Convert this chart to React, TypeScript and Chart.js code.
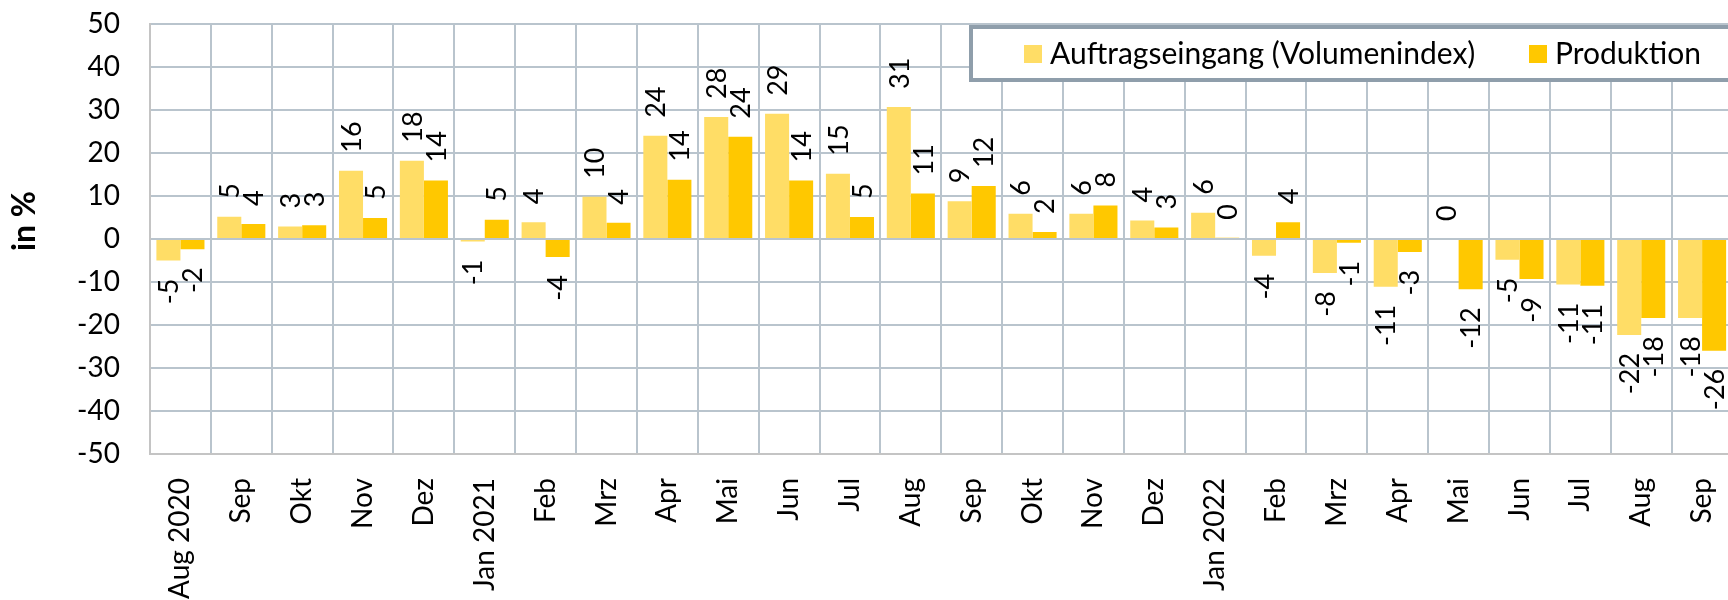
import React, { useEffect, useRef } from "react";
import { Chart, registerables } from "chart.js";

Chart.register(...registerables);

const categories = [
  "Aug 2020", "Sep", "Okt", "Nov", "Dez", "Jan 2021", "Feb", "Mrz", "Apr", "Mai", "Jun", "Jul", "Aug",
  "Sep", "Okt", "Nov", "Dez", "Jan 2022", "Feb", "Mrz", "Apr", "Mai", "Jun", "Jul", "Aug", "Sep",
];

const auftragseingang = [
  -5.0, 5.2, 2.9, 15.9, 18.2, -0.6, 3.9, 9.8, 24.0, 28.4, 29.1, 15.2, 30.7,
  8.8, 5.9, 5.9, 4.3, 6.1, -3.9, -7.9, -11.1, 0, -4.8, -10.6, -22.3, -18.4,
];

const produktion = [
  -2.4, 3.5, 3.2, 4.9, 13.6, 4.5, -4.2, 3.8, 13.8, 23.8, 13.6, 5.1, 10.6,
  12.3, 1.6, 7.8, 2.7, 0.3, 3.9, -0.9, -3.0, -11.7, -9.3, -10.9, -18.4, -26.0,
];

const seriesNames = ["Auftragseingang (Volumenindex)", "Produktion"];
const seriesColors = ["#FFDD66", "#FFC800"];
const yTicks = { min: -50, max: 50, step: 10 };
const yAxisTitle = "in %";

const FONT = "Lato, 'Open Sans', sans-serif";

const labelPlugin = {
  id: "customLabels",
  afterDatasetsDraw(chart: any) {
    const ctx = chart.ctx;
    ctx.save();
    ctx.fillStyle = "#000";
    ctx.font = `27px ${FONT}`;
    ctx.textBaseline = "middle";
    chart.data.datasets.forEach((ds: any, di: number) => {
      const meta = chart.getDatasetMeta(di);
      meta.data.forEach((el: any, i: number) => {
        const v = ds.data[i];
        let r = Math.round(v);
        if (Object.is(r, -0)) r = 0;
        const txt = String(r);
        ctx.save();
        if (v >= 0) {
          ctx.translate(el.x, el.y - 18);
          ctx.rotate(-Math.PI / 2);
          ctx.textAlign = "left";
        } else {
          ctx.translate(el.x, el.y + 18);
          ctx.rotate(-Math.PI / 2);
          ctx.textAlign = "right";
        }
        ctx.fillText(txt, 0, 1);
        ctx.restore();
      });
    });
    ctx.restore();
  },
  afterDraw(chart: any) {
    const ctx = chart.ctx;
    ctx.save();
    // legend box
    ctx.fillStyle = "#fff";
    ctx.fillRect(971, 27, 800, 53);
    ctx.strokeStyle = "#8f9eab";
    ctx.lineWidth = 4;
    ctx.strokeRect(971, 27, 800, 53);
    ctx.font = `30px ${FONT}`;
    ctx.textBaseline = "middle";
    ctx.textAlign = "left";
    const items = [
      { sx: 1024, tx: 1050 },
      { sx: 1529, tx: 1555 },
    ];
    items.forEach((it, i) => {
      ctx.fillStyle = chart.data.datasets[i].backgroundColor;
      ctx.fillRect(it.sx, 45, 18, 18);
      ctx.fillStyle = "#000";
      ctx.fillText(chart.data.datasets[i].label, it.tx, 54);
    });
    // y axis title
    ctx.font = `bold 32px ${FONT}`;
    ctx.translate(25, 221);
    ctx.rotate(-Math.PI / 2);
    ctx.textAlign = "center";
    ctx.fillText(yAxisTitle, 0, 0);
    ctx.restore();
  },
};

export default function App() {
  const ref = useRef<HTMLCanvasElement>(null);
  useEffect(() => {
    if (!ref.current) return;
    const chart = new Chart(ref.current, {
      type: "bar",
      data: {
        labels: categories,
        datasets: [
          {
            label: seriesNames[0],
            data: auftragseingang,
            backgroundColor: seriesColors[0],
            categoryPercentage: 0.79,
            barPercentage: 1.0,
          },
          {
            label: seriesNames[1],
            data: produktion,
            backgroundColor: seriesColors[1],
            categoryPercentage: 0.79,
            barPercentage: 1.0,
          },
        ],
      },
      options: {
        responsive: false,
        animation: false,
        layout: { padding: { top: 24, right: 16, left: 0, bottom: 0 } },
        plugins: { legend: { display: false }, tooltip: { enabled: false } },
        scales: {
          x: {
            grid: { color: "#b9c4cd", lineWidth: 2, drawTicks: false },
            border: { color: "#c4c4c4", width: 2 },
            ticks: {
              color: "#000",
              font: { family: FONT, size: 28 },
              maxRotation: 90,
              minRotation: 90,
              padding: 24,
              autoSkip: false,
            },
            afterFit: (s: any) => {
              s.height = 146;
            },
          },
          y: {
            min: yTicks.min,
            max: yTicks.max,
            grid: { color: "#b9c4cd", lineWidth: 2, drawTicks: false },
            border: { color: "#c4c4c4", width: 2 },
            ticks: {
              stepSize: yTicks.step,
              color: "#000",
              font: { family: FONT, size: 28 },
              padding: 30,
            },
            afterFit: (s: any) => {
              s.width = 150;
              s.paddingTop = 10;
              s.paddingBottom = 10;
            },
          },
        },
      },
      plugins: [labelPlugin],
    });
    return () => chart.destroy();
  }, []);
  return (
    <div style={{ position: "fixed", left: 0, top: 0, width: 1728, height: 600, overflow: "hidden", background: "#fff" }}>
      <canvas ref={ref} width={1760} height={600} style={{ display: "block", width: 1760, height: 600 }} />
    </div>
  );
}
